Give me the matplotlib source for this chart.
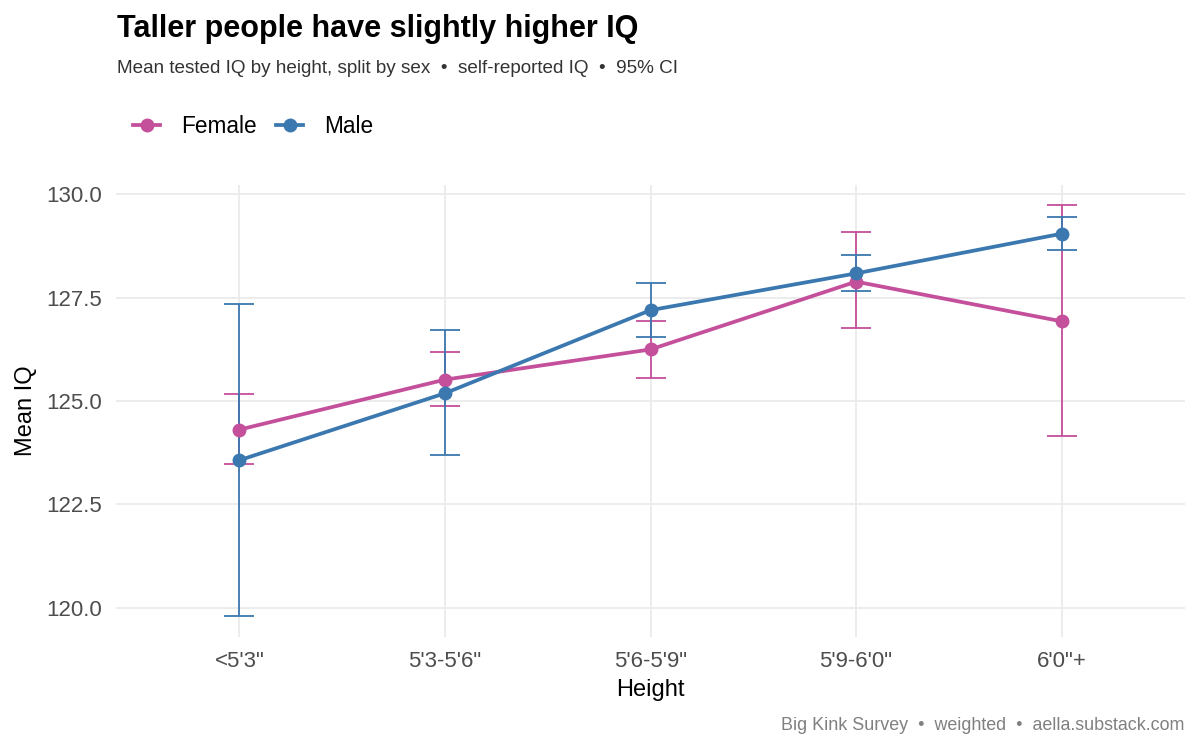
import matplotlib
matplotlib.use("Agg")
import matplotlib.pyplot as plt
from matplotlib.lines import Line2D

# DATA
heights = ['<5\'3"', "5'3-5'6\"", "5'6-5'9\"", "5'9-6'0\"", '6\'0"+']

female_mean = [124.31, 125.52, 126.25, 127.89, 126.93]
female_lo = [123.48, 124.88, 125.56, 126.78, 124.15]
female_hi = [125.17, 126.18, 126.94, 129.08, 129.74]

male_mean = [123.57, 125.19, 127.20, 128.09, 129.05]
male_lo = [119.80, 123.70, 126.56, 127.67, 128.65]
male_hi = [127.34, 126.71, 127.86, 128.54, 129.45]

yticks = [120.0, 122.5, 125.0, 127.5, 130.0]

F_COL = "#C44F9B"
M_COL = "#3B78B0"

plt.rcParams['font.family'] = ['Liberation Sans', 'DejaVu Sans']

fig = plt.figure(figsize=(12, 7.5), dpi=100)
ax = fig.add_axes([0.0967, 0.151, 0.8908, 0.603])

x = list(range(len(heights)))
series = [
    ("Female", female_mean, female_lo, female_hi, F_COL),
    ("Male", male_mean, male_lo, male_hi, M_COL),
]

# error bars first, then lines, then points (ggplot layer order)
for name, m, lo, hi, col in series:
    err = [[a - b for a, b in zip(m, lo)], [b - a for a, b in zip(m, hi)]]
    ax.errorbar(x, m, yerr=err, fmt='none', ecolor=col, elinewidth=1.3,
                capsize=11, capthick=1.3, zorder=2)
for name, m, lo, hi, col in series:
    ax.plot(x, m, color=col, lw=2.7, zorder=3, solid_capstyle='butt')
for name, m, lo, hi, col in series:
    ax.plot(x, m, 'o', color=col, ms=9, zorder=4)

ax.set_xlim(-0.6, len(heights) - 0.4)
ax.set_ylim(119.3, 130.24)
ax.set_xticks(x)
ax.set_xticklabels(heights)
ax.set_yticks(yticks)
ax.set_yticklabels([f"{v:.1f}" for v in yticks])

ax.grid(True, color="#EBEBEB", lw=1.3, zorder=0)
ax.set_axisbelow(True)
for s in ax.spines.values():
    s.set_visible(False)
ax.tick_params(length=0, labelsize=16, colors="#4D4D4D")
ax.tick_params(axis='y', pad=10)
ax.tick_params(axis='x', pad=10)

ax.set_xlabel("Height", fontsize=17, color="black", labelpad=5)
ax.set_ylabel("Mean IQ", fontsize=17, color="black", labelpad=7)

# titles
fig.text(0.0975, 0.962, "Taller people have slightly higher IQ",
         fontsize=22, fontweight='bold', va='center', ha='left')
fig.text(0.0975, 0.909,
         "Mean tested IQ by height, split by sex  \u2022  self-reported IQ  \u2022  95% CI",
         fontsize=13.6, color="#333333", va='center', ha='left')
fig.text(0.987, 0.033, "Big Kink Survey  \u2022  weighted  \u2022  aella.substack.com",
         fontsize=12.9, color="#808080", va='center', ha='right')

# legend
handles = [Line2D([], [], color=col, lw=2.7, marker='o', ms=9)
           for _, _, _, _, col in series]
fig.legend(handles, [s[0] for s in series], loc='center left',
           bbox_to_anchor=(0.111, 0.831), ncol=2, frameon=False, fontsize=16.3,
           handlelength=1.2, handletextpad=0.93, columnspacing=0.84,
           borderaxespad=0, borderpad=0)

plt.savefig("out.png", dpi=100, facecolor="white")
